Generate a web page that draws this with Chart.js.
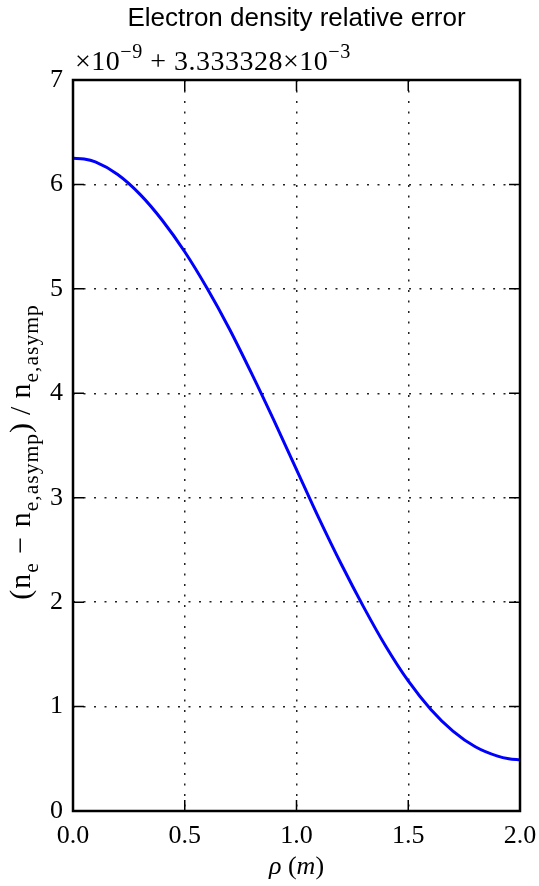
<!DOCTYPE html>
<html>
<head>
<meta charset="utf-8">
<script src="https://cdn.jsdelivr.net/npm/chart.js@4"></script>
<style>
  html, body { margin: 0; padding: 0; background: #fff; }
  #wrap { width: 539px; height: 886px; position: relative; }
</style>
</head>
<body>
<div id="wrap"><canvas id="errChart"></canvas></div>
<script>
// ===== DATA =====
const rho = [0.0, 0.05, 0.1, 0.2, 0.3, 0.4, 0.5, 0.6, 0.7, 0.8, 0.9, 1.0,
             1.1, 1.2, 1.3, 1.4, 1.5, 1.6, 1.7, 1.8, 1.9, 1.95, 2.0];
const neError = [6.25, 6.243, 6.215, 6.095, 5.905, 5.655, 5.355, 5.005, 4.615, 4.185, 3.735, 3.27,
                 2.805, 2.365, 1.955, 1.575, 1.245, 0.975, 0.765, 0.615, 0.525, 0.5, 0.49];
const xTicks = [0.0, 0.5, 1.0, 1.5, 2.0];
const yTicks = [0, 1, 2, 3, 4, 5, 6, 7];

const titleText = 'Electron density relative error';
const SERIF = '"Liberation Serif", "DejaVu Serif", serif';

// draw a row of text pieces, some of them sub/superscript
function drawRuns(ctx, runs, x, y, size) {
  let cx = x;
  runs.forEach(r => {
    const s = r.pos ? size * 0.72 : size;
    const dy = r.pos === 'sub' ? size * 0.26 : r.pos === 'sup' ? -size * 0.42 : 0;
    ctx.font = (r.italic ? 'italic ' : '') + s + 'px ' + SERIF;
    ctx.fillText(r.t, cx, y + dy);
    cx += ctx.measureText(r.t).width;
  });
  return cx - x;
}
function runsWidth(ctx, runs, size) {
  let w = 0;
  runs.forEach(r => {
    const s = r.pos ? size * 0.72 : size;
    ctx.font = (r.italic ? 'italic ' : '') + s + 'px ' + SERIF;
    w += ctx.measureText(r.t).width;
  });
  return w;
}

const frameAndText = {
  id: 'frameAndText',
  afterDraw(chart) {
    const { ctx, chartArea: a, scales } = chart;
    ctx.save();
    ctx.fillStyle = '#000';
    ctx.strokeStyle = '#000';

    // inward ticks on all four sides
    ctx.lineWidth = 1.5;
    const tl = 11;
    ctx.beginPath();
    xTicks.forEach(v => {
      const px = scales.x.getPixelForValue(v);
      ctx.moveTo(px, a.bottom); ctx.lineTo(px, a.bottom - tl);
      ctx.moveTo(px, a.top); ctx.lineTo(px, a.top + tl);
    });
    yTicks.forEach(v => {
      const py = scales.y.getPixelForValue(v);
      ctx.moveTo(a.left, py); ctx.lineTo(a.left + tl, py);
      ctx.moveTo(a.right, py); ctx.lineTo(a.right - tl, py);
    });
    ctx.stroke();

    // frame
    ctx.lineWidth = 2.5;
    ctx.strokeRect(a.left, a.top, a.right - a.left, a.bottom - a.top);

    // title
    ctx.font = '26px "Liberation Sans", Arial, sans-serif';
    ctx.textAlign = 'center';
    ctx.textBaseline = 'middle';
    ctx.fillText(titleText, (a.left + a.right) / 2, 19);

    // offset text above the axes
    ctx.textAlign = 'left';
    ctx.textBaseline = 'alphabetic';
    ctx.letterSpacing = '0.5px';
    drawRuns(ctx, [
      { t: '\u00d710' }, { t: '\u22129', pos: 'sup' },
      { t: ' + 3.333328\u00d710' }, { t: '\u22123', pos: 'sup' }
    ], a.left + 2, 70, 28);

    // x axis label
    ctx.letterSpacing = '0px';
    const xl = [{ t: '\u03c1', italic: true }, { t: ' (' }, { t: 'm', italic: true }, { t: ')' }];
    const xw = runsWidth(ctx, xl, 26);
    drawRuns(ctx, xl, (a.left + a.right) / 2 - xw / 2, 874, 26);

    // y axis label, rotated
    ctx.letterSpacing = '1px';
    const yl = [
      { t: '(n' }, { t: 'e', pos: 'sub' }, { t: ' \u2212 n' }, { t: 'e,asymp', pos: 'sub' },
      { t: ')\u2009/\u2009n' }, { t: 'e,asymp', pos: 'sub' }
    ];
    const yw = runsWidth(ctx, yl, 30);
    ctx.translate(30, 452);
    ctx.rotate(-Math.PI / 2);
    drawRuns(ctx, yl, -yw / 2, 0, 30);
    ctx.restore();
  }
};

const points = rho.map((r, i) => ({ x: r, y: neError[i] }));

new Chart(document.getElementById('errChart'), {
  type: 'line',
  data: {
    datasets: [{
      label: 'relative error',
      data: points,
      borderColor: '#0000ff',
      borderWidth: 3,
      pointRadius: 0,
      fill: false,
      cubicInterpolationMode: 'monotone'
    }]
  },
  options: {
    responsive: true,
    maintainAspectRatio: false,
    animation: false,
    layout: { padding: { top: 80, right: 19, left: 0, bottom: 0 } },
    plugins: { legend: { display: false }, title: { display: false }, tooltip: { enabled: false } },
    scales: {
      x: {
        type: 'linear',
        min: 0, max: 2,
        afterFit: s => { s.height = 75; s.paddingLeft = 0; s.paddingRight = 0; },
        afterBuildTicks: s => { s.ticks = xTicks.map(v => ({ value: v })); },
        grid: { color: '#222', lineWidth: 1.5, drawTicks: false },
        border: { display: false, dash: [2, 8.5] },
        ticks: {
          padding: 10,
          color: '#000',
          font: { family: SERIF, size: 26 },
          callback: v => Number(v).toFixed(1)
        }
      },
      y: {
        min: 0, max: 7,
        afterFit: s => { s.width = 73; s.paddingTop = 0; s.paddingBottom = 0; },
        afterBuildTicks: s => { s.ticks = yTicks.map(v => ({ value: v })); },
        grid: { color: '#222', lineWidth: 1.5, drawTicks: false },
        border: { display: false, dash: [2, 8.5] },
        ticks: {
          padding: 10,
          color: '#000',
          font: { family: SERIF, size: 26 },
          callback: v => String(v)
        }
      }
    }
  },
  plugins: [frameAndText]
});
</script>
</body>
</html>
